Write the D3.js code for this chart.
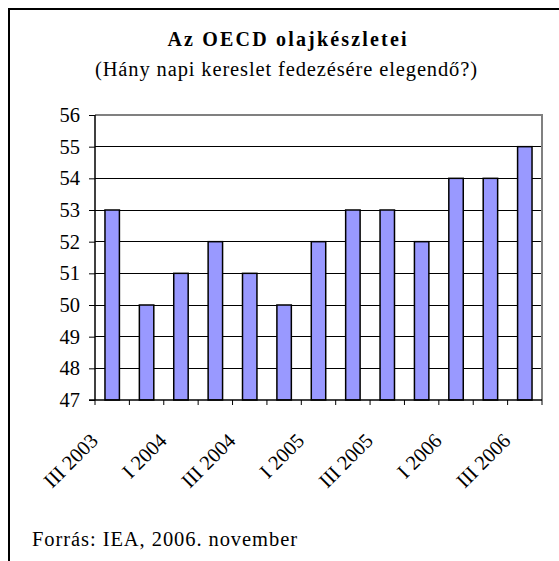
<!DOCTYPE html>
<html>
<head>
<meta charset="utf-8">
<script src="https://cdn.jsdelivr.net/npm/d3@7"></script>
<style>
  body { margin: 0; background: #fff; }
  text { font-family: "Liberation Serif", "Times New Roman", serif; fill: #000; }
</style>
</head>
<body>
<svg id="chart" width="559" height="561"></svg>
<script>
// quarterly OECD oil stock cover (days of demand)
var quarters = ["III 2003", "IV 2003", "I 2004", "II 2004", "III 2004", "IV 2004",
  "I 2005", "II 2005", "III 2005", "IV 2005", "I 2006", "II 2006", "III 2006"];
var days = [53, 50, 51, 52, 51, 50, 52, 53, 53, 52, 54, 54, 55];
var yTicks = [47, 48, 49, 50, 51, 52, 53, 54, 55, 56];

var svg = d3.select("#chart");

// outer frame (only left and top show in the picture)
svg.append("path")
  .attr("d", "M9,561 V9 H559")
  .attr("fill", "none")
  .attr("stroke", "#000")
  .attr("stroke-width", 2);

svg.append("text")
  .attr("x", 287).attr("y", 46)
  .attr("text-anchor", "middle")
  .attr("font-size", 20).attr("font-weight", "bold")
  .attr("textLength", 239).attr("lengthAdjust", "spacing")
  .text("Az OECD olajkészletei");

svg.append("text")
  .attr("x", 286).attr("y", 76)
  .attr("text-anchor", "middle")
  .attr("font-size", 20.5)
  .attr("textLength", 382).attr("lengthAdjust", "spacing")
  .text("(Hány napi kereslet fedezésére elegendő?)");

svg.append("text")
  .attr("x", 32).attr("y", 546)
  .attr("font-size", 20.5)
  .attr("textLength", 265).attr("lengthAdjust", "spacing")
  .text("Forrás: IEA, 2006. november");

var plotL = 95, plotR = 542, plotT = 115, plotB = 400;

var x = d3.scaleBand().domain(quarters).range([plotL, plotR]).paddingInner(0.58).paddingOuter(0.29);
var xb = d3.scaleBand().domain(quarters).range([plotL, plotR]);
var y = d3.scaleLinear().domain([47, 56]).range([plotB, plotT]);

// grid lines
svg.append("g")
  .selectAll("line")
  .data(yTicks.filter(function(d) { return d > 47 && d < 56; }))
  .join("line")
  .attr("x1", plotL).attr("x2", plotR)
  .attr("y1", function(d) { return y(d); })
  .attr("y2", function(d) { return y(d); })
  .attr("stroke", "#000")
  .attr("stroke-width", 1)
  .attr("shape-rendering", "crispEdges");

// plot area top/right border
svg.append("path")
  .attr("d", "M" + plotL + "," + y(56) + " H" + plotR + " V" + plotB)
  .attr("fill", "none")
  .attr("stroke", "#808080")
  .attr("stroke-width", 2);

// bars
svg.append("g")
  .selectAll("rect")
  .data(days)
  .join("rect")
  .attr("x", function(d, i) { return x(quarters[i]); })
  .attr("width", x.bandwidth())
  .attr("y", function(d) { return y(d); })
  .attr("height", function(d) { return y(47) - y(d); })
  .attr("fill", "#9999ff")
  .attr("stroke", "#000")
  .attr("stroke-width", 1.5);

// y axis
var yAxis = svg.append("g")
  .attr("transform", "translate(" + plotL + ",0)")
  .call(d3.axisLeft(y).tickValues(yTicks).tickSize(6).tickPadding(9).tickFormat(d3.format("d")));
yAxis.attr("font-family", null);
yAxis.selectAll("text").attr("font-size", 20.5);
yAxis.selectAll("line, path").attr("stroke", "#000");
yAxis.select(".domain").attr("d", "M0," + y(56) + "V" + y(47)).attr("stroke-width", 1.5);

// x axis: ticks at category boundaries
var bounds = quarters.map(function(q) { return xb(q); }).concat([plotR]);
svg.append("g")
  .selectAll("line")
  .data(bounds)
  .join("line")
  .attr("x1", function(d) { return d; }).attr("x2", function(d) { return d; })
  .attr("y1", plotB).attr("y2", plotB + 5)
  .attr("stroke", "#000");
svg.append("line")
  .attr("x1", plotL - 6).attr("x2", plotR)
  .attr("y1", plotB).attr("y2", plotB)
  .attr("stroke", "#000")
  .attr("stroke-width", 1.5);

// rotated category labels, every second quarter
svg.append("g")
  .selectAll("text")
  .data(quarters.filter(function(q, i) { return i % 2 === 0; }))
  .join("text")
  .attr("font-size", 20.5)
  .attr("text-anchor", "end")
  .attr("transform", function(q) {
    return "translate(" + (xb(q) + xb.bandwidth() / 2 - 13) + "," + (plotB + 42) + ") rotate(-45)";
  })
  .text(function(q) { return q; });
</script>
</body>
</html>
